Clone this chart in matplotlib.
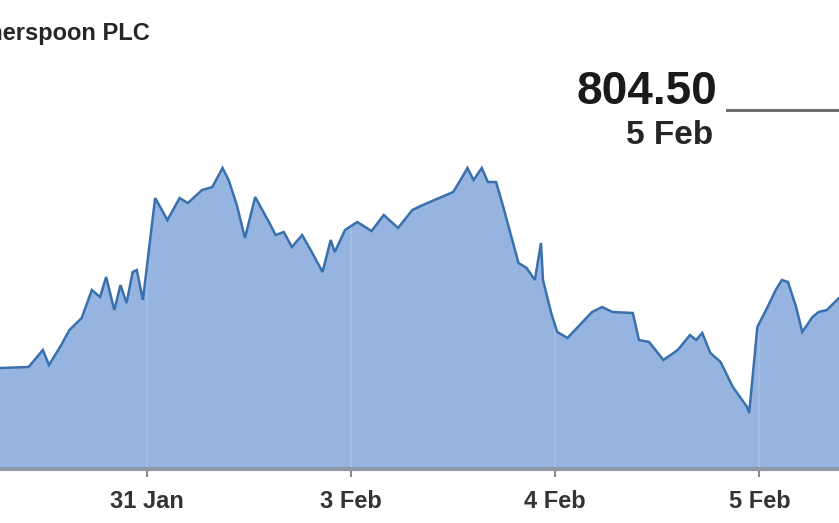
import matplotlib
matplotlib.use("Agg")
import matplotlib.pyplot as plt
from matplotlib.lines import Line2D

# ---- data ----
# x: trading-day position (0 = 31 Jan, 1 = 3 Feb, 2 = 4 Feb, 3 = 5 Feb)
day_pos = [-0.72, -0.58, -0.51, -0.48, -0.42, -0.38, -0.32, -0.27, -0.23, -0.20,
           -0.16, -0.13, -0.10, -0.07, -0.05, -0.02, 0.04, 0.10, 0.16, 0.20,
           0.27, 0.32, 0.37, 0.40, 0.44, 0.48, 0.53, 0.60, 0.63, 0.67,
           0.71, 0.76, 0.81, 0.86, 0.90, 0.92, 0.97, 1.03, 1.10, 1.16,
           1.23, 1.30, 1.34, 1.50, 1.53, 1.57, 1.60, 1.64, 1.67, 1.71,
           1.74, 1.78, 1.82, 1.86, 1.90, 1.93, 1.94, 1.98, 2.01, 2.06,
           2.12, 2.18, 2.23, 2.28, 2.38, 2.41, 2.46, 2.53, 2.60, 2.66,
           2.69, 2.72, 2.76, 2.81, 2.87, 2.94, 2.95, 2.99, 3.04, 3.08,
           3.11, 3.14, 3.18, 3.21, 3.26, 3.29, 3.33, 3.39]
price = [759.4, 759.6, 763.0, 760.0, 764.0, 767.0, 769.4, 775.0, 773.6, 777.6,
         771.0, 776.0, 772.4, 778.6, 779.0, 773.0, 793.4, 789.0, 793.4, 792.4,
         795.0, 795.6, 799.4, 797.0, 792.0, 785.4, 793.6, 788.4, 786.0, 786.6,
         783.6, 786.0, 782.4, 778.6, 785.0, 782.6, 787.0, 788.6, 786.8, 790.0,
         787.4, 791.0, 791.8, 794.6, 796.6, 799.4, 797.0, 799.4, 796.6, 796.6,
         792.4, 786.4, 780.4, 779.4, 777.0, 784.4, 777.0, 770.4, 766.6, 765.4,
         768.0, 770.6, 771.6, 770.6, 770.4, 765.0, 764.6, 761.0, 763.0, 766.0,
         765.0, 766.4, 762.4, 760.6, 755.6, 751.6, 750.4, 767.6, 771.6, 775.0,
         777.0, 776.6, 771.6, 766.6, 769.6, 770.6, 771.0, 773.4]
tick_pos = [0, 1, 2, 3]
tick_labels = ["31 Jan", "3 Feb", "4 Feb", "5 Feb"]
title = "J D Wetherspoon PLC"
last_value = "804.50"
last_date = "5 Feb"

FONT = ["Liberation Sans Narrow", "Liberation Sans", "DejaVu Sans"]

fig = plt.figure(figsize=(8.39, 5.23), dpi=100)
fig.patch.set_facecolor("white")
ax = fig.add_axes([0, 54 / 523, 1, 469 / 523])

ymin, ymax = 739.2, 833.0
ax.fill_between(day_pos, ymin, price, color="#95b5e0", lw=0, zorder=1)
for t in tick_pos:
    ax.axvline(t, color="white", alpha=0.12, lw=1.5, zorder=1.5)
ax.plot(day_pos, price, color="#3a70ad", lw=1.8, zorder=2, solid_joinstyle="miter")

ax.set_xlim(-0.72, 3.39)
ax.set_ylim(ymin, ymax)

for s in ["top", "left", "right"]:
    ax.spines[s].set_visible(False)
ax.spines["bottom"].set_color("#8e98a6")
ax.spines["bottom"].set_linewidth(3)
ax.set_yticks([])
ax.set_xticks(tick_pos)
ax.set_xticklabels(tick_labels, family=FONT, fontsize=17, fontweight="bold",
                   color="#333333")
ax.tick_params(axis="x", direction="out", length=6, width=1.5, color="#8a8a8a",
               pad=9)

fig.text(150 / 839, 1 - 40 / 523, title, ha="right", va="baseline",
         family=FONT, fontsize=17, fontweight="bold", color="#262626")
fig.text(717 / 839, 1 - 104 / 523, last_value, ha="right", va="baseline",
         family=FONT, fontsize=33, fontweight="bold", color="#1a1a1a")
fig.text(713 / 839, 1 - 144 / 523, last_date, ha="right", va="baseline",
         family=FONT, fontsize=24, fontweight="bold", color="#262626")
fig.add_artist(Line2D([727 / 839, 1.0], [1 - 110 / 523, 1 - 110 / 523],
                      transform=fig.transFigure, color="#707070", lw=2.2))

fig.savefig("out.png", dpi=100, facecolor="white")
